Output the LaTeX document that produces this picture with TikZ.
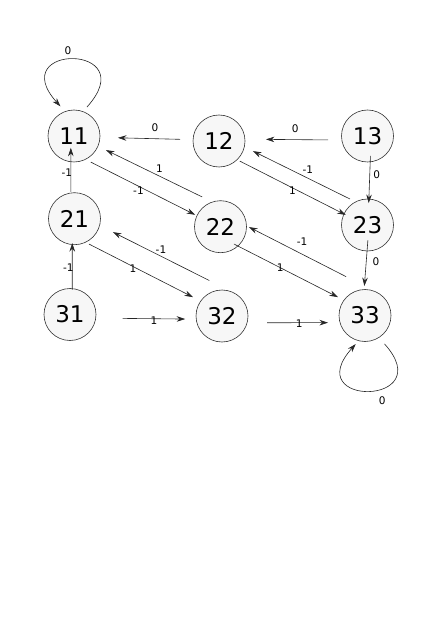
\documentclass[tikz,border=0pt]{standalone}
\usepackage{fontspec}
\setmainfont{DejaVu Sans}
\usetikzlibrary{arrows.meta}
\begin{document}
\begin{tikzpicture}[x=1pt, y=1pt, >={Stealth[length=8.5pt, width=5.5pt]},
	st/.style={circle, draw=black!80, fill=black!3, line width=0.6pt, minimum size=52pt, inner sep=0pt, outer sep=0pt, font=\fontsize{23}{26}\selectfont},
	lbl/.style={inner sep=0pt, font=\fontsize{10.5}{12}\selectfont},
	ar/.style={->, line width=0.6pt, draw=black!85}]
	\useasboundingbox (0,0) rectangle (436,-617);
	
	% Възли
	\node[st] (n11) at (74,-136) {11};
	\node[st] (n12) at (219,-141) {12};
	\node[st] (n13) at (367.5,-136) {13};
	\node[st] (n21) at (74.5,-218.7) {21};
	\node[st] (n22) at (220.5,-226.7) {22};
	\node[st] (n23) at (367.5,-225) {23};
	\node[st] (n31) at (70,-314.5) {31};
	\node[st] (n32) at (222,-316) {32};
	\node[st] (n33) at (365,-315.5) {33};
	
	% Примки
	\draw[ar, shorten <=6pt, shorten >=7pt] (n11.70) .. controls +(48:92) and +(132:92) .. node[lbl, pos=.5, xshift=-6pt, yshift=9.5pt] {0} (n11.110);
	\draw[ar, shorten <=8.6pt, shorten >=4.5pt] (n33.-58) .. controls +(-48:92) and +(-132:90) .. node[lbl, pos=.5, xshift=13pt, yshift=-10.4pt] {0} (n33.-104);
	
	% Хоризонтални стрелки
	\draw[ar, shorten <=13pt, shorten >=18pt] (n12.177) -- node[lbl, pos=.41, yshift=10.7pt] {0} (n11.-3);
	\draw[ar, shorten <=13.8pt, shorten >=21pt] (n13.189) -- node[lbl, pos=.48, yshift=10.7pt] {0} (n12.4);
	\draw[ar, shorten <=27pt, shorten >=11pt] (n31.-8) -- node[lbl, pos=.58, yshift=-2.4pt] {1} (n32.187);
	\draw[ar, shorten <=20pt, shorten >=12pt] (n32.-15) -- node[lbl, pos=.56, yshift=-1.3pt] {1} (n33.196);
	
	% Вертикални стрелки
	\draw[ar, shorten <=1pt, shorten >=-14pt] (n21.98) -- node[lbl, pos=.64, xshift=-4pt] {-1} (n11.-97);
	\draw[ar, shorten <=-1pt, shorten >=-1.6pt] (n31.85) -- node[lbl, pos=.47, xshift=-4pt] {-1} (n21.-95);
	\draw[ar, shorten <=-6pt, shorten >=-4pt] (n13.-84) -- node[lbl, pos=.35, xshift=7pt] {0} (n23.87);
	\draw[ar, shorten <=-11pt, shorten >=3.5pt] (n23.-91) -- node[lbl, pos=.29, xshift=9.8pt] {0} (n33.92);
	
	% Диагонални стрелки
	\draw[ar, shorten <=6pt, shorten >=2pt] (n11.-64) -- node[lbl, pos=.49, xshift=-1.6pt, yshift=-3.2pt] {-1} (n22.155);
	\draw[ar, shorten <=11.4pt, shorten >=9pt] (n22.108) -- node[lbl, pos=.49, xshift=3.2pt, yshift=6.4pt] {1} (n11.-23);
	\draw[ar, shorten <=3pt, shorten >=-2pt] (n12.-46) -- node[lbl, pos=.53, xshift=-1.2pt, yshift=-2.4pt] {1} (n23.155);
	\draw[ar, shorten <=6.4pt, shorten >=9.6pt] (n23.117) -- node[lbl, pos=.46, xshift=3.3pt, yshift=6.6pt] {-1} (n12.-13);
	\draw[ar, shorten <=3.9pt, shorten >=8.7pt] (n21.-65) -- node[lbl, pos=.42, xshift=-1pt, yshift=-2pt] {1} (n32.145);
	\draw[ar, shorten <=27pt, shorten >=14.9pt] (n32.64) -- node[lbl, pos=.56, xshift=2.5pt, yshift=5pt] {-1} (n21.-15);
	\draw[ar, shorten <=-4.4pt, shorten >=6.8pt] (n22.-48) -- node[lbl, pos=.40] {1} (n33.144);
	\draw[ar, shorten <=34pt, shorten >=2.8pt] (n33.64) -- node[lbl, pos=.61, xshift=5pt, yshift=9.6pt] {-1} (n22.2);
\end{tikzpicture}
\end{document}
